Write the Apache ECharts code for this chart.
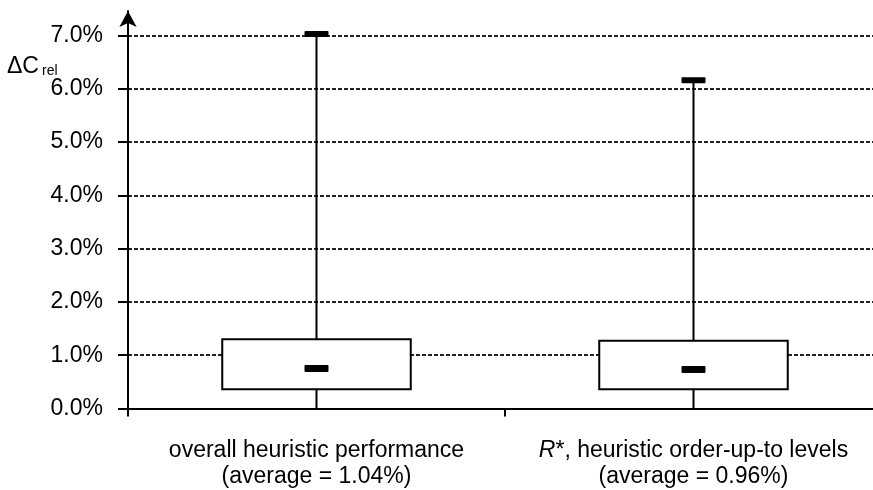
<!DOCTYPE html>
<html>
<head>
<meta charset="utf-8">
<script src="https://cdn.jsdelivr.net/npm/echarts@6/dist/echarts.min.js"></script>
<style>
  html, body { margin: 0; padding: 0; background: #fff; }
  #main { width: 873px; height: 490px; }
</style>
</head>
<body>
<div id="main"></div>
<script>
// categories (x axis)
const categories = [
  'overall heuristic performance\n(average = 1.04%)',
  '{i|R}*, heuristic order-up-to levels\n(average = 0.96%)'
];
// box plot values, in percent
const whiskerLow = [0, 0];
const boxLow = [0.36, 0.36];
const medians = [0.75, 0.73];
const boxHigh = [1.30, 1.27];
const whiskerHigh = [7.03, 6.16];
// y axis tick values
const yTicks = [0, 1, 2, 3, 4, 5, 6, 7];

const font = 'Liberation Sans, Arial, sans-serif';

const boxData = categories.map((c, i) => [i, whiskerLow[i], boxLow[i], medians[i], boxHigh[i], whiskerHigh[i]]);

function renderBox(params, api) {
  const x = api.value(0);
  const pMin = api.coord([x, api.value(1)]);
  const pQ1 = api.coord([x, api.value(2)]);
  const pMed = api.coord([x, api.value(3)]);
  const pQ3 = api.coord([x, api.value(4)]);
  const pMax = api.coord([x, api.value(5)]);
  const cx = pMed[0];
  const half = api.size([1, 0])[0] * 0.25;
  const line = { stroke: '#000', lineWidth: 2 };
  return {
    type: 'group',
    children: [
      { type: 'line', shape: { x1: cx, y1: pQ1[1], x2: cx, y2: pMin[1] }, style: line },
      { type: 'line', shape: { x1: cx, y1: pQ3[1], x2: cx, y2: pMax[1] }, style: line },
      {
        type: 'rect',
        shape: { x: cx - half, y: pQ3[1], width: half * 2, height: pQ1[1] - pQ3[1] },
        style: { fill: '#fff', stroke: '#000', lineWidth: 2 }
      },
      { type: 'rect', shape: { x: cx - 12, y: pMed[1] - 3.5, width: 24, height: 7, r: 1 }, style: { fill: '#000' } },
      { type: 'rect', shape: { x: cx - 12, y: pMax[1] - 3, width: 24, height: 6, r: 1 }, style: { fill: '#000' } }
    ]
  };
}

const chart = echarts.init(document.getElementById('main'));
chart.setOption({
  animation: false,
  backgroundColor: '#fff',
  grid: { left: 128, right: -9, top: 11, bottom: 81.5, outerBoundsMode: 'none' },
  graphic: [
    { type: 'text', left: 7, top: 55, style: { text: 'ΔC', fontSize: 23, fontFamily: font, fill: '#000' } },
    { type: 'text', left: 42, top: 64, style: { text: 'rel', fontSize: 14, fontFamily: font, fill: '#000' } }
  ],
  xAxis: {
    type: 'category',
    data: categories,
    boundaryGap: true,
    axisLine: { lineStyle: { color: '#000', width: 2 } },
    axisTick: { show: true, length: 8, lineStyle: { color: '#000', width: 2 } },
    axisLabel: {
      interval: 0,
      margin: 29,
      color: '#000',
      fontSize: 23,
      lineHeight: 26,
      fontFamily: font,
      rich: {
        i: { fontStyle: 'italic', fontSize: 23, lineHeight: 26, fontFamily: font, color: '#000' }
      }
    },
    splitLine: { show: false }
  },
  yAxis: {
    type: 'value',
    min: 0,
    max: 7.46,
    interval: 1,
    axisLine: {
      show: true,
      symbol: ['none', 'arrow'],
      symbolSize: [13, 16],
      lineStyle: { color: '#000', width: 2 }
    },
    axisTick: { show: true, length: 10, customValues: yTicks, lineStyle: { color: '#000', width: 2 } },
    axisLabel: {
      margin: 25,
      color: '#000',
      fontSize: 23,
      fontFamily: font,
      customValues: yTicks,
      formatter: v => v.toFixed(1) + '%'
    },
    splitLine: {
      show: true,
      showMinLine: false,
      lineStyle: { color: '#222', width: 2, type: [4, 2] }
    }
  },
  series: [
    {
      type: 'custom',
      renderItem: renderBox,
      data: boxData,
      encode: { x: 0, y: [1, 2, 3, 4, 5] },
      z: 3
    }
  ]
});
</script>
</body>
</html>
